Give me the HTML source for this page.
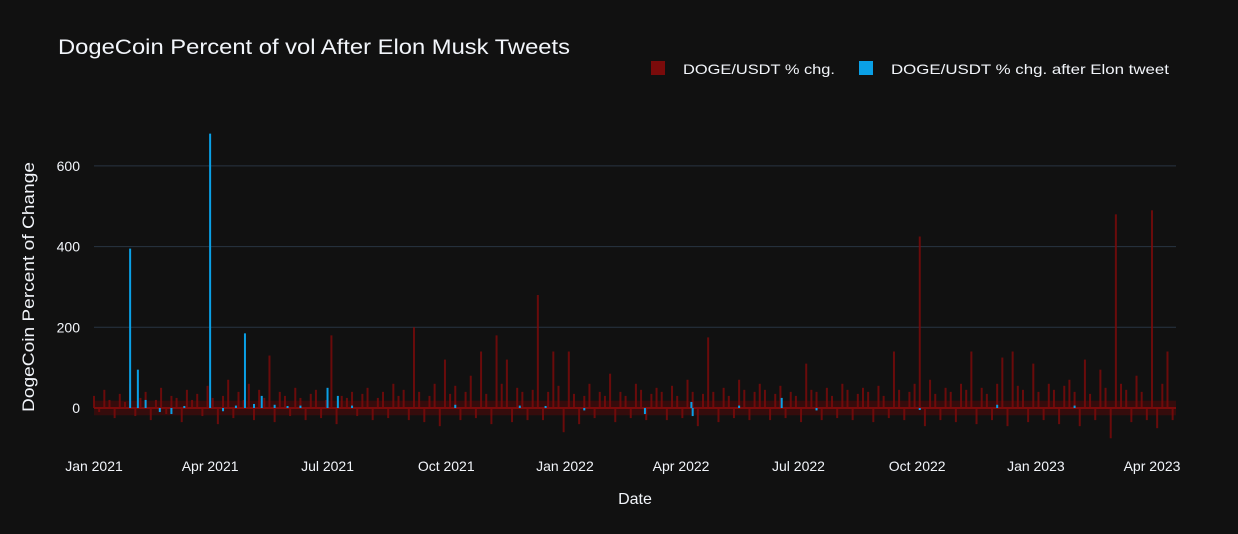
<!DOCTYPE html>
<html><head><meta charset="utf-8"><style>
body{margin:0;background:#111111;}
svg{display:block;font-family:"Liberation Sans","DejaVu Sans",sans-serif;}
</style></head><body>
<svg id="chart" width="1238" height="534">
<rect width="1238" height="534" fill="#111111"/>
<text x="58" y="54" fill="#f2f5fa" font-size="21" textLength="512" lengthAdjust="spacingAndGlyphs">DogeCoin Percent of vol After Elon Musk Tweets</text>
<g>
<rect x="651" y="61" width="14" height="14" fill="#7a0b0b"/>
<text x="683" y="74" fill="#f2f5fa" font-size="14" textLength="152" lengthAdjust="spacingAndGlyphs">DOGE/USDT % chg.</text>
<rect x="859" y="61" width="14" height="14" fill="#0aa0e6"/>
<text x="891" y="74" fill="#f2f5fa" font-size="14" textLength="278" lengthAdjust="spacingAndGlyphs">DOGE/USDT % chg. after Elon tweet</text>
</g>
<g id="grid"></g><g id="red"></g><g id="blue"></g><g id="axes"></g>
<text x="635" y="504" fill="#f2f5fa" font-size="16" text-anchor="middle">Date</text>
<text transform="translate(34,287) rotate(-90)" fill="#f2f5fa" font-size="17" text-anchor="middle" textLength="250" lengthAdjust="spacingAndGlyphs">DogeCoin Percent of Change</text>
</svg>
<script>
const yTicks=[0,200,400,600];
const xTickLabels=["Jan 2021","Apr 2021","Jul 2021","Oct 2021","Jan 2022","Apr 2022","Jul 2022","Oct 2022","Jan 2023","Apr 2023"];
const xTickDates=["2021-01-01","2021-04-01","2021-07-01","2021-10-01","2022-01-01","2022-04-01","2022-07-01","2022-10-01","2023-01-01","2023-04-01"];
const redStart="2021-01-01";
const redStepDays=4;
const redValues=[30,-10,45,20,-25,35,15,60,-20,25,
40,-30,20,50,-15,30,25,-35,45,20,
35,-20,55,25,-40,30,70,-25,40,20,
60,-30,45,25,130,-35,40,30,-20,50,
25,-30,35,45,-25,20,180,-40,30,25,
40,-20,35,50,-30,25,40,-25,60,30,
45,-30,200,40,-35,30,60,-45,120,35,
55,-30,40,80,-25,140,35,-40,180,60,
120,-35,50,40,-30,45,280,-30,40,140,
55,-60,140,35,-40,30,60,-25,40,30,
85,-35,40,30,-25,60,45,-30,35,50,
40,-30,55,30,-25,70,40,-45,35,175,
40,-35,50,30,-25,70,45,-30,40,60,
45,-30,35,55,-25,40,30,-35,110,45,
40,-30,50,30,-25,60,45,-30,35,50,
40,-35,55,30,-25,140,45,-30,40,60,
425,-45,70,35,-30,50,40,-35,60,45,
140,-40,50,35,-30,60,125,-45,140,55,
45,-35,110,40,-30,60,45,-40,55,70,
40,-45,120,35,-30,95,50,-75,480,60,
45,-35,80,40,-30,490,-50,60,140,-30];
const blueDays=[28,34,40,51,60,70,90,100,110,117,124,130,140,150,160,181,189,200,280,330,350,380,427,463,464,500,533,560,640,700,760];
const blueValues=[395,95,20,-10,-15,5,680,-8,6,185,10,30,8,5,6,50,30,6,8,6,5,-6,-15,15,-20,6,25,-6,-5,8,6];
const ns="http://www.w3.org/2000/svg";
const X0=94,X1=1152,Y0=408,PXPER=80.7/200;
const day0=Date.parse("2021-01-01");
const D1=(Date.parse("2023-04-01")-day0)/864e5;
function xDay(d){return X0+(X1-X0)*d/D1;}
function xDate(s){return xDay((Date.parse(s)-day0)/864e5);}
function y(v){return Y0-v*PXPER;}
function mk(t,a,p){const e=document.createElementNS(ns,t);for(const k in a)e.setAttribute(k,a[k]);p.appendChild(e);return e;}
const grid=document.getElementById('grid'),axes=document.getElementById('axes');
yTicks.forEach(v=>{
 if(v!==0){const l=mk('line',{x1:94,x2:1176,y1:y(v),y2:y(v),stroke:'#283442','stroke-width':1},grid);
 
 }
 const t=mk('text',{x:80,y:y(v)+5,fill:'#f2f5fa','font-size':14,'text-anchor':'end'},axes);t.textContent=v;
 
 
});
xTickLabels.forEach((lab,i)=>{
 const t=mk('text',{x:xDate(xTickDates[i]),y:471,fill:'#f2f5fa','font-size':14,'text-anchor':'middle'},axes);t.textContent=lab;
 
 
});
const red=document.getElementById('red');
const band=mk('rect',{x:94,y:y(18),width:1082,height:y(-18)-y(18),fill:'#5a0808',opacity:0.5},red);


const rs=(Date.parse(redStart)-day0)/864e5;
redValues.forEach((v,i)=>{
 const xx=xDay(rs+i*redStepDays);
 const r=mk('rect',{x:xx-1,y:Math.min(y(v),Y0),width:2,height:Math.abs(y(v)-Y0),fill:'#7a0b0b',opacity:0.85},red);
 
 
});
const zl=mk('line',{x1:94,x2:1176,y1:Y0,y2:Y0,stroke:'#7a0b0b','stroke-width':2},red);


const blue=document.getElementById('blue');
blueDays.forEach((d,i)=>{
 const v=blueValues[i];const xx=xDay(d);
 const r=mk('rect',{x:xx-1,y:Math.min(y(v),Y0),width:2,height:Math.max(1,Math.abs(y(v)-Y0)),fill:'#0aa0e6'},blue);
 
 
});
</script>
</body></html>
